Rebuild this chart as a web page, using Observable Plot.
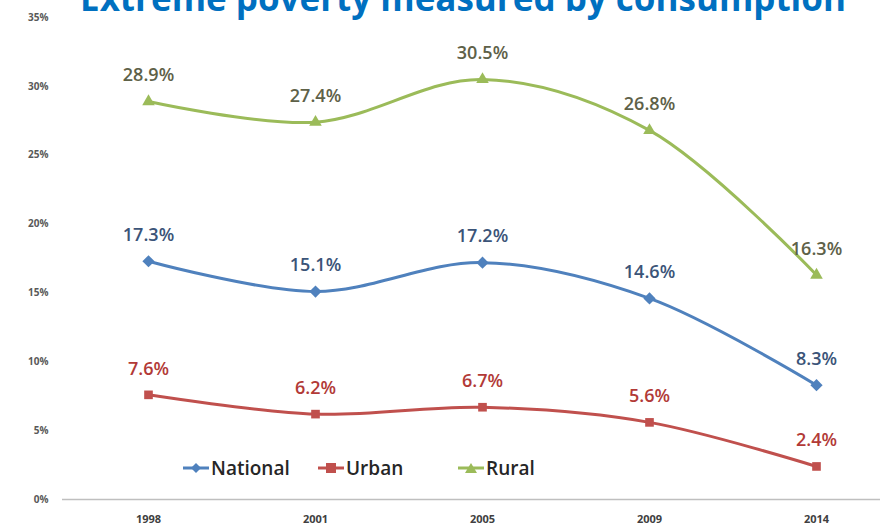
<!DOCTYPE html>
<html>
<head>
<meta charset="utf-8">
<script src="https://cdn.jsdelivr.net/npm/d3@7"></script>
<script src="https://cdn.jsdelivr.net/npm/@observablehq/plot@0.6"></script>
<style>
  html, body { margin: 0; padding: 0; background: #fff; overflow: hidden; }
  #wrap { position: relative; width: 889px; height: 532px; }
  #title { position: absolute; left: 0; top: 0; }
  #legend { position: absolute; left: 183px; top: 455px; display: flex; font-family: "Open Sans", sans-serif; font-size: 19px; font-weight: 600; color: #262626; }
  #legend .item { display: flex; align-items: center; }
  #legend svg { margin-right: 2px; }
</style>
</head>
<body>
<div id="wrap"></div>
<script>
const years = ["1998", "2001", "2005", "2009", "2014"];
const seriesNames = ["National", "Urban", "Rural"];
const national = [17.3, 15.1, 17.2, 14.6, 8.3];
const urban = [7.6, 6.2, 6.7, 5.6, 2.4];
const rural = [28.9, 27.4, 30.5, 26.8, 16.3];
const yTicks = [0, 5, 10, 15, 20, 25, 30, 35];
const titleText = "Extreme poverty measured by consumption";

const lineColors = {National: "#4F81BD", Urban: "#C0504D", Rural: "#9BBB59"};
const labelColors = {National: "#3B5478", Urban: "#B23A37", Rural: "#5E6148"};
const symbols = {National: "diamond2", Urban: "square2", Rural: "triangle2"};
const symSizes = {National: 5.5, Urban: 5.5, Rural: 6};
const legendWidths = {National: 135, Urban: 140, Rural: 100};

const valuesBySeries = {National: national, Urban: urban, Rural: rural};
const rows = [];
for (const s of seriesNames) {
  valuesBySeries[s].forEach((v, i) => rows.push({series: s, year: years[i], value: v}));
}

const marks = [
  Plot.ruleX([0], {frameAnchor: "left", stroke: "#D9D9D9", strokeWidth: 2}),
  Plot.ruleY([0], {stroke: "#BFBFBF", strokeWidth: 1.5}),
  Plot.axisY({ticks: yTicks, tickSize: 0, tickPadding: 14, tickFormat: d => d + "%", fontSize: 10, fontWeight: "bold", fill: "#595959"}),
  Plot.axisX({tickSize: 0, tickPadding: 16, fontSize: 11, fontWeight: "bold", fill: "#404040"})
];
for (const s of seriesNames) {
  const data = rows.filter(r => r.series === s);
  marks.push(Plot.line(data, {x: "year", y: "value", stroke: lineColors[s], strokeWidth: 3, curve: "catmull-rom"}));
  marks.push(Plot.dot(data, {x: "year", y: "value", symbol: () => symbols[s], fill: lineColors[s], stroke: "none", r: symSizes[s]}));
  marks.push(Plot.text(data, {x: "year", y: "value", text: d => d.value.toFixed(1) + "%", dy: -26, fill: labelColors[s], fontSize: 18, fontWeight: 600, fontFamily: "Open Sans"}));
}

const chart = Plot.plot({
  width: 889,
  height: 532,
  marginLeft: 62,
  marginRight: 9,
  marginTop: 17,
  marginBottom: 33,
  style: {fontFamily: "Open Sans, sans-serif", background: "#fff"},
  x: {type: "point", domain: years, range: [148, 816], padding: 0, label: null},
  y: {domain: [0, 35], label: null},
  symbol: {type: "identity"},
  marks
});

const wrap = document.getElementById("wrap");
wrap.appendChild(chart);

// Title (clipped at top as in the reference)
const ns = "http://www.w3.org/2000/svg";
const tsvg = document.createElementNS(ns, "svg");
tsvg.setAttribute("id", "title");
tsvg.setAttribute("width", 889);
tsvg.setAttribute("height", 40);
const tt = document.createElementNS(ns, "text");
tt.setAttribute("x", 463);
tt.setAttribute("y", 11);
tt.setAttribute("text-anchor", "middle");
tt.setAttribute("font-family", "Open Sans, sans-serif");
tt.setAttribute("font-weight", "bold");
tt.setAttribute("font-size", 35);
tt.setAttribute("fill", "#0070C0");
tt.textContent = titleText;
tsvg.appendChild(tt);
wrap.appendChild(tsvg);

// Legend
const legend = document.createElement("div");
legend.id = "legend";
const shapes = {
  National: c => `<path d="M13,2 L18,7 L13,12 L8,7 Z" fill="${c}"/>`,
  Urban: c => `<rect x="8" y="2" width="10" height="10" fill="${c}"/>`,
  Rural: c => `<path d="M13,2 L19,12 L7,12 Z" fill="${c}"/>`
};
for (const s of seriesNames) {
  const item = document.createElement("div");
  item.className = "item";
  item.style.width = legendWidths[s] + "px";
  item.innerHTML = `<svg width="26" height="14"><line x1="0" y1="7" x2="26" y2="7" stroke="${lineColors[s]}" stroke-width="3"/>${shapes[s](lineColors[s])}</svg><span>${s}</span>`;
  legend.appendChild(item);
}
wrap.appendChild(legend);
</script>
</body>
</html>
